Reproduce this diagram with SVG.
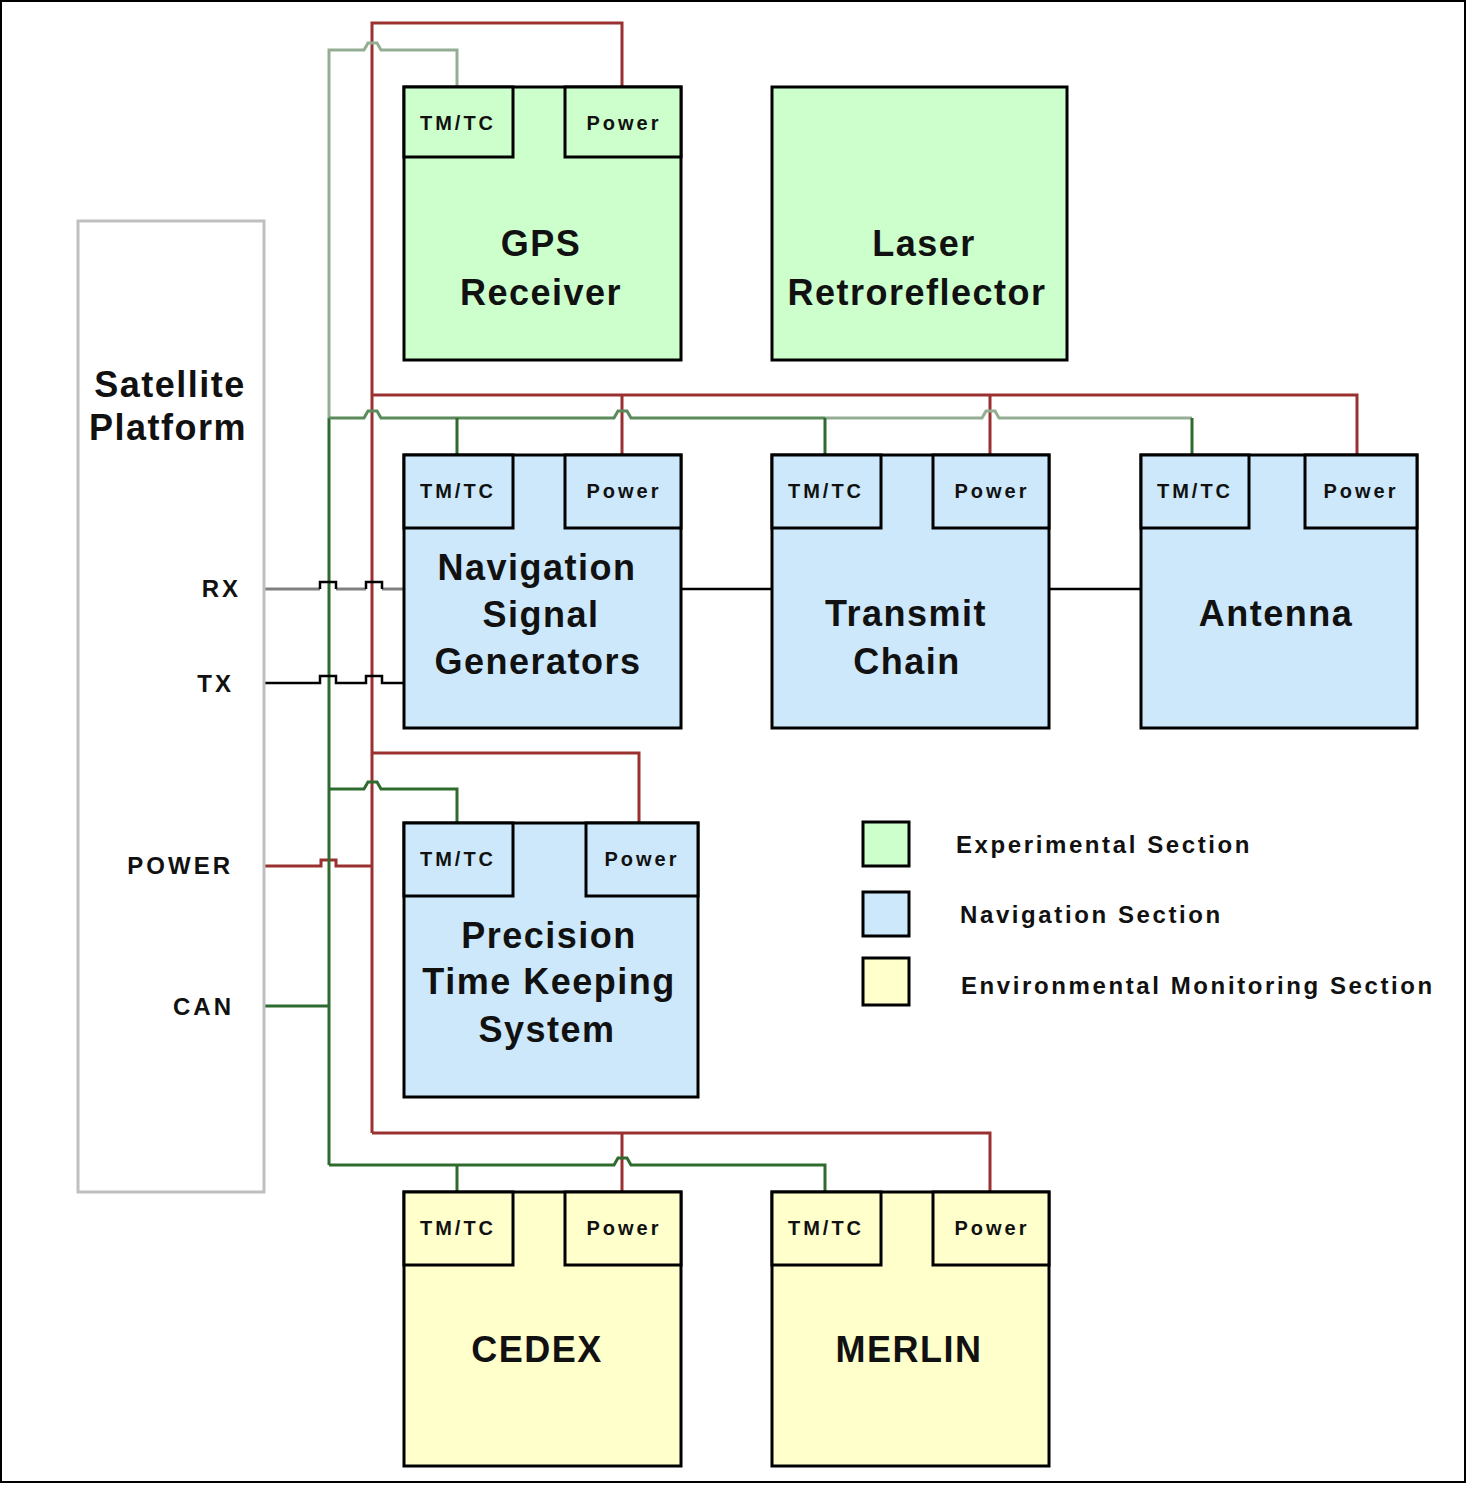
<svg xmlns="http://www.w3.org/2000/svg" width="1469" height="1485" viewBox="0 0 1469 1485">
<style>
.box{stroke:#000;stroke-width:3}
.g{fill:#ccffcc}.b{fill:#cce8fa}.y{fill:#ffffcc}
.lbl{font-family:"Liberation Sans",Arial,sans-serif;font-weight:bold;font-size:36px;letter-spacing:1.5px;fill:#111;text-anchor:middle}
.sm{font-family:"Liberation Sans",Arial,sans-serif;font-weight:bold;font-size:20px;letter-spacing:3px;fill:#111;text-anchor:middle}
.side{font-family:"Liberation Sans",Arial,sans-serif;font-weight:bold;font-size:24px;letter-spacing:3px;fill:#111;text-anchor:end}
.leg{font-family:"Liberation Sans",Arial,sans-serif;font-weight:bold;font-size:24px;letter-spacing:2.6px;fill:#111}
.red{fill:none;stroke:#9a3030;stroke-width:3}
.grn{fill:none;stroke:#2f6b2f;stroke-width:3}
.grnm{fill:none;stroke:#5b8a5b;stroke-width:3}
.grnl{fill:none;stroke:#93ae93;stroke-width:3}
.blk{fill:none;stroke:#000;stroke-width:2.5}
.gry{fill:none;stroke:#808080;stroke-width:3}
</style>
<rect x="0" y="0" width="1469" height="1485" fill="#fff"/>
<rect x="1" y="1" width="1464" height="1481" fill="none" stroke="#000" stroke-width="2"/>

<g id="connectors">
  <path class="red" d="M372 1133 V23 H622 V87"/>
  <path class="red" d="M372 395 H1357 V455 M622 395 V455 M990 395 V455"/>
  <path class="red" d="M372 753 H639 V823"/>
  <path class="red" d="M372 1133 H990 V1192 M622 1133 V1192"/>
  <path class="red" d="M264 866 H321 V860 H336 V866 H372"/>
  <path class="grnl" d="M329 418 V50 H364 L368 43 H377 L381 50 H457 V87"/>
  <path class="grn" d="M329 418 V1165"/>
  <path class="grnm" d="M329 418 H364 L368 411 H377 L381 418 H614 L618 411 H627 L631 418 H825"/>
  <path class="grnl" d="M825 418 H982 L986 411 H995 L999 418 H1192"/>
  <path class="grn" d="M457 418 V455 M825 418 V455 M1192 418 V455"/>
  <path class="grn" d="M329 789 H364 L368 782 H377 L381 789 H457 V823"/>
  <path class="grn" d="M329 1165 H614 L618 1158 H627 L631 1165 H825 V1192 M457 1165 V1192"/>
  <path class="grn" d="M264 1006 H329"/>
  <path class="gry" d="M264 589 H320 M336 589 H366 M382 589 H404"/>
  <path class="blk" d="M320 589 V582 H336 V589 M366 589 V582 H382 V589"/>
  <path class="blk" d="M264 683 H320 V676 H336 V683 H366 V676 H382 V683 H404"/>
  <path class="blk" d="M681 589 H772 M1049 589 H1141"/>
</g>

<g id="satellite-platform">
  <rect x="78" y="221" width="186" height="971" fill="none" stroke="#bfbfbf" stroke-width="3"/>
  <text class="lbl" x="170" y="397">Satellite</text>
  <text class="lbl" x="168" y="440">Platform</text>
  <text class="side" x="241" y="597">RX</text>
  <text class="side" x="234" y="692">TX</text>
  <text class="side" x="233" y="874">POWER</text>
  <text class="side" x="234" y="1015">CAN</text>
</g>

<g id="gps-receiver">
  <rect class="box g" x="404" y="87" width="277" height="273"/>
  <rect class="box g" x="404" y="87" width="109" height="70"/>
  <rect class="box g" x="565" y="87" width="116" height="70"/>
  <text class="sm" x="458" y="130">TM/TC</text>
  <text class="sm" x="624" y="130">Power</text>
  <text class="lbl" x="541" y="256">GPS</text>
  <text class="lbl" x="541" y="305">Receiver</text>
</g>

<g id="laser-retroreflector">
  <rect class="box g" x="772" y="87" width="295" height="273"/>
  <text class="lbl" x="924" y="256">Laser</text>
  <text class="lbl" x="917" y="305">Retroreflector</text>
</g>

<g id="navigation-signal-generators">
  <rect class="box b" x="404" y="455" width="277" height="273"/>
  <rect class="box b" x="404" y="455" width="109" height="73"/>
  <rect class="box b" x="565" y="455" width="116" height="73"/>
  <text class="sm" x="458" y="498">TM/TC</text>
  <text class="sm" x="624" y="498">Power</text>
  <text class="lbl" x="537" y="580">Navigation</text>
  <text class="lbl" x="541" y="627">Signal</text>
  <text class="lbl" x="538" y="674">Generators</text>
</g>

<g id="transmit-chain">
  <rect class="box b" x="772" y="455" width="277" height="273"/>
  <rect class="box b" x="772" y="455" width="109" height="73"/>
  <rect class="box b" x="933" y="455" width="116" height="73"/>
  <text class="sm" x="826" y="498">TM/TC</text>
  <text class="sm" x="992" y="498">Power</text>
  <text class="lbl" x="906" y="626">Transmit</text>
  <text class="lbl" x="907" y="674">Chain</text>
</g>

<g id="antenna">
  <rect class="box b" x="1141" y="455" width="276" height="273"/>
  <rect class="box b" x="1141" y="455" width="108" height="73"/>
  <rect class="box b" x="1305" y="455" width="112" height="73"/>
  <text class="sm" x="1195" y="498">TM/TC</text>
  <text class="sm" x="1361" y="498">Power</text>
  <text class="lbl" x="1276" y="626">Antenna</text>
</g>

<g id="precision-time-keeping-system">
  <rect class="box b" x="404" y="823" width="294" height="274"/>
  <rect class="box b" x="404" y="823" width="109" height="73"/>
  <rect class="box b" x="586" y="823" width="112" height="73"/>
  <text class="sm" x="458" y="866">TM/TC</text>
  <text class="sm" x="642" y="866">Power</text>
  <text class="lbl" x="549" y="948">Precision</text>
  <text class="lbl" x="549" y="994">Time Keeping</text>
  <text class="lbl" x="547" y="1042">System</text>
</g>

<g id="cedex">
  <rect class="box y" x="404" y="1192" width="277" height="274"/>
  <rect class="box y" x="404" y="1192" width="109" height="73"/>
  <rect class="box y" x="565" y="1192" width="116" height="73"/>
  <text class="sm" x="458" y="1235">TM/TC</text>
  <text class="sm" x="624" y="1235">Power</text>
  <text class="lbl" x="537" y="1362">CEDEX</text>
</g>

<g id="merlin">
  <rect class="box y" x="772" y="1192" width="277" height="274"/>
  <rect class="box y" x="772" y="1192" width="109" height="73"/>
  <rect class="box y" x="933" y="1192" width="116" height="73"/>
  <text class="sm" x="826" y="1235">TM/TC</text>
  <text class="sm" x="992" y="1235">Power</text>
  <text class="lbl" x="909" y="1362">MERLIN</text>
</g>

<g id="legend">
  <rect class="box g" x="863" y="822" width="46" height="44"/>
  <rect class="box b" x="863" y="892" width="46" height="44"/>
  <rect class="box y" x="863" y="958" width="46" height="47"/>
  <text class="leg" x="956" y="853">Experimental Section</text>
  <text class="leg" x="960" y="923">Navigation Section</text>
  <text class="leg" x="961" y="994">Environmental Monitoring Section</text>
</g>
</svg>
